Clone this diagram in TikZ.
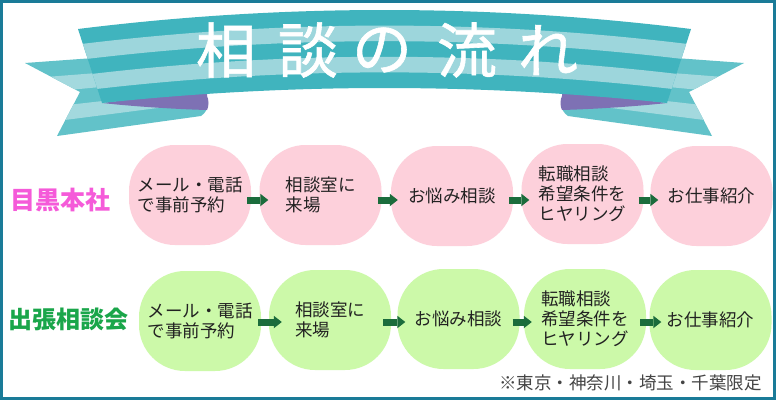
\documentclass[tikz,border=0pt]{standalone}
\usepackage{fontspec}
\setmainfont{Noto Sans CJK JP}
\usetikzlibrary{arrows.meta}
\definecolor{frameC}{HTML}{1A7B98}
\definecolor{bandD}{HTML}{40B4BE}
\definecolor{bandL}{HTML}{9DD6DC}
\definecolor{tailM}{HTML}{62C2C9}
\definecolor{tailL}{HTML}{A3D9DE}
\definecolor{purp}{HTML}{7E71B4}
\definecolor{pinkF}{HTML}{FDD0DB}
\definecolor{greenF}{HTML}{CCF9A9}
\definecolor{arrowC}{HTML}{1B6C3C}
\definecolor{txtC}{HTML}{222222}
\definecolor{labPink}{HTML}{F55AD9}
\definecolor{labGreen}{HTML}{1AA64A}
\definecolor{noteC}{HTML}{444444}
\newcommand\myTail{%
  \begin{scope}
    \clip (25,63) -- (204,50) -- (204,95) .. controls (209,99) and (210,110) .. (201,116) -- (57,136) -- (80,92) -- cycle;
    \fill[tailM] (15,40) rectangle (220,145);
    \fill[tailL] (20,79.0) -- (215,63.8) -- (215,76.2) -- (20,94.6) -- cycle;
    \fill[tailL] (20,110.3) -- (215,88.4) -- (215,100.6) -- (20,125.8) -- cycle;
  \end{scope}
  \fill[purp] (102,103) -- (207,90) -- (207,96) .. controls (209,100) and (209,106) .. (207,110) .. controls (170,109) and (130,106) .. (102,103) -- cycle;
}
\tikzset{
  stepbox/.style={minimum width=122pt, minimum height=100pt, rounded corners=46pt,
    inner sep=0pt, align=left, text=txtC, font=\fontsize{17.5}{20}\selectfont},
  pinkbox/.style={stepbox, fill=pinkF},
  greenbox/.style={stepbox, fill=greenF},
  flowarrow/.style={draw=arrowC, line width=7pt, -{Triangle[length=8pt,width=12.5pt,line width=0pt]}},
  titlechar/.style={text=white, inner sep=0pt, font=\fontsize{60}{64}\selectfont\addfontfeature{FakeBold=1}},
}
\begin{document}
\begin{tikzpicture}[x=1pt,y=-1pt]
\useasboundingbox (0,0) rectangle (778,402);
\fill[white] (0,0) rectangle (778,402);
\draw[frameC, line width=3pt] (1.5,1.5) rectangle (774.5,398.5);
% ribbon tails
\myTail
\begin{scope}[shift={(769,0)}, xscale=-1]
  \myTail
\end{scope}
% main band
\begin{scope}
  \clip (78,29) .. controls (282.3,3.67) and (486.7,3.67) .. (691,29) -- (667,103) .. controls (478.7,83) and (290.3,83) .. (102,103) -- cycle;
  \fill[bandD] (50,0) rectangle (720,110);
  \fill[bandL] (50,63.6) .. controls (273,33.7) and (496,33.7) .. (719,63.6) -- (719,48.0) .. controls (496,18.1) and (273,18.1) .. (50,48.0) -- cycle;
  \fill[bandL] (50,94.8) .. controls (273,64.9) and (496,64.9) .. (719,94.8) -- (719,79.2) .. controls (496,49.3) and (273,49.3) .. (50,79.2) -- cycle;
\end{scope}
% title
\node[titlechar] (t1) at (226,50) {相};
\node[titlechar] (t2) at (308,50) {談};
\node[titlechar] (t3) at (382,50) {の};
\node[titlechar] (t4) at (467,50) {流};
\node[titlechar] (t5) at (548,50) {れ};
% row labels
\node[text=labPink, font=\fontsize{25}{30}\selectfont\bfseries] (lab1) at (60,200) {目黒本社};
\node[text=labGreen, font=\fontsize{24}{30}\selectfont\bfseries] (lab2) at (69,319) {出張相談会};
% row 1
\node[pinkbox] (a1) at (190,195) {メール・電話\\で事前予約};
\node[pinkbox] (a2) at (320.5,195) {相談室に\\来場};
\node[pinkbox] (a3) at (452,196) {お悩み相談};
\node[pinkbox] (a4) at (582.5,194) {転職相談\\希望条件を\\ヒヤリング};
\node[pinkbox] (a5) at (711.5,196) {お仕事紹介};
% row 2
\node[greenbox] (b1) at (200,321) {メール・電話\\で事前予約};
\node[greenbox] (b2) at (330,320) {相談室に\\来場};
\node[greenbox] (b3) at (458.5,319) {お悩み相談};
\node[greenbox] (b4) at (585,319) {転職相談\\希望条件を\\ヒヤリング};
\node[greenbox] (b5) at (710.5,320) {お仕事紹介};
% arrows row 1
\draw[flowarrow] ([xshift=-4pt,yshift=-5pt]a1.east) -- ([xshift=9pt,yshift=-5pt]a2.west);
\draw[flowarrow] ([xshift=-4pt,yshift=-5pt]a2.east) -- ([xshift=7pt,yshift=-4pt]a3.west);
\draw[flowarrow] ([xshift=-4pt,yshift=-4pt]a3.east) -- ([xshift=8pt,yshift=-6pt]a4.west);
\draw[flowarrow] ([xshift=-5pt,yshift=-6pt]a4.east) -- ([xshift=8pt,yshift=-4pt]a5.west);
% arrows row 2
\draw[flowarrow] ([xshift=-3pt,yshift=-1pt]b1.east) -- ([xshift=13pt,yshift=-2pt]b2.west);
\draw[flowarrow] ([xshift=-8pt,yshift=-2pt]b2.east) -- ([xshift=8pt,yshift=-3pt]b3.west);
\draw[flowarrow] ([xshift=-7pt,yshift=-3pt]b3.east) -- ([xshift=8pt,yshift=-3pt]b4.west);
\draw[flowarrow] ([xshift=-6pt,yshift=-3pt]b4.east) -- ([xshift=12pt,yshift=-2pt]b5.west);
% note
\node[text=noteC, font=\fontsize{17.5}{20}\selectfont] (note) at (630.5,382.5) {※東京・神奈川・埼玉・千葉限定};
\end{tikzpicture}
\end{document}
